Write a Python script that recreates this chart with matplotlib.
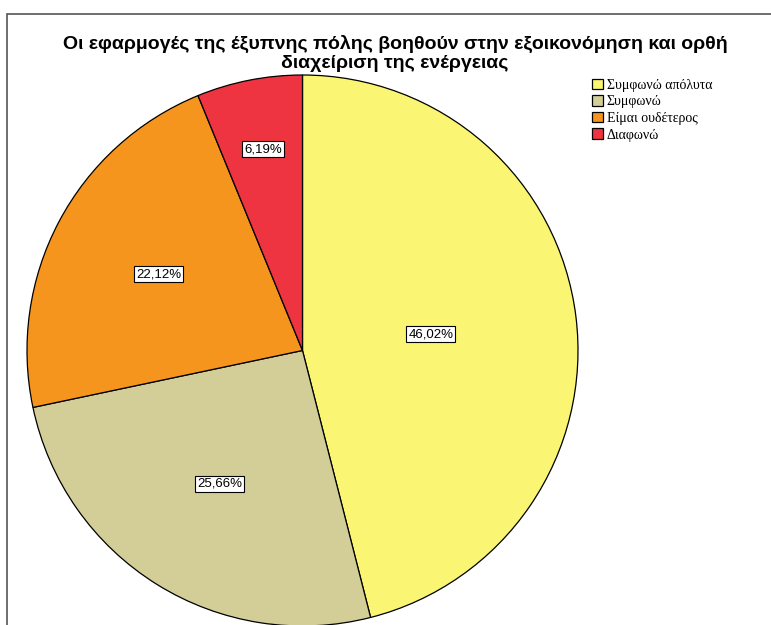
import matplotlib.pyplot as plt
from matplotlib.patches import Rectangle
import numpy as np

# Δεδομένα
categories = ['Συμφωνώ απόλυτα', 'Συμφωνώ', 'Είμαι ουδέτερος', 'Διαφωνώ']
percentages = [46.02, 25.66, 22.12, 6.19]
colors = ['#FAF573', '#D3CD97', '#F5951E', '#EE3440']
label_radius = [0.47, 0.57, 0.59, 0.745]
title = 'Οι εφαρμογές της έξυπνης πόλης βοηθούν στην εξοικονόμηση και ορθή\nδιαχείριση της ενέργειας'

W, H = 771, 625
fig = plt.figure(figsize=(W / 100, H / 100), dpi=100)

# cadre gris autour du graphique
fig.patches.append(Rectangle((7 / W, -0.05), 1.2, 1 - 14 / H + 0.05, transform=fig.transFigure,
                             fill=False, edgecolor='#555555', linewidth=1.2))

ax = fig.add_axes([27 / W, -1 / H, 551 / W, 551 / H])
wedges, texts, autotexts = ax.pie(
    percentages, colors=colors, startangle=90, counterclock=False,
    autopct=lambda p: f'{p:.2f}%'.replace('.', ','),
    wedgeprops=dict(edgecolor='black', linewidth=0.9),
    textprops=dict(fontsize=9.5, family='Liberation Sans'))

# replacer les étiquettes le long de l'angle médian de chaque secteur
for w, t, r in zip(wedges, autotexts, label_radius):
    ang = np.deg2rad((w.theta1 + w.theta2) / 2)
    t.set_position((r * np.cos(ang), r * np.sin(ang)))
    t.set_bbox(dict(boxstyle='square,pad=0.15', facecolor='white', edgecolor='black', linewidth=0.8))

ax.set_xlim(-1, 1)
ax.set_ylim(-1, 1)
ax.set_aspect('equal')

fig.text(395 / W, 1 - 53 / H, title, ha='center', va='center', fontsize=14,
         family='Liberation Sans', fontweight='bold', linespacing=1.15)

leg = fig.legend(wedges, categories, loc='upper left', bbox_to_anchor=(586 / W, 1 - 73 / H),
                 frameon=False, prop=dict(family='Liberation Serif', size=10),
                 handlelength=0.8, handleheight=0.8, handletextpad=0.3, labelspacing=0.25,
                 borderaxespad=0)

fig.savefig('out.png', dpi=100)
